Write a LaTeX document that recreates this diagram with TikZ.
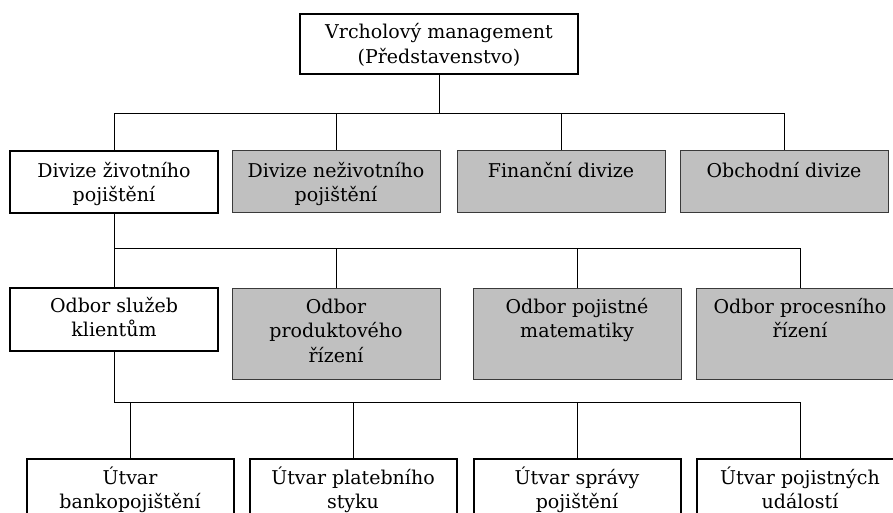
\documentclass[tikz,border=0pt]{standalone}
\usepackage{fontspec}
\newfontfamily\chartfont{DejaVu Serif}
\newcommand\boxtext[2][204pt]{\parbox[t]{#1}{\centering #2}}
\definecolor{boxgray}{HTML}{C0C0C0}
\definecolor{edgegray}{HTML}{3A3A3A}
\tikzset{
  mainbox/.style={draw=black, line width=2pt, fill=white, inner sep=0pt},
  sidebox/.style={draw=edgegray, line width=1pt, fill=boxgray, inner sep=0pt},
  lbl/.style={anchor=base, inner sep=0pt, font=\chartfont\fontsize{19}{24.5}\selectfont},
  link/.style={draw=black, line width=0.9pt},
}
\begin{document}
\begin{tikzpicture}[x=1pt, y=-1pt]
\useasboundingbox (0,0) rectangle (893,513);
\clip (0,0) rectangle (893,513);
\fill[white] (0,0) rectangle (893,513);

% --- top management ---
\node[mainbox, minimum width=278pt, minimum height=60pt, anchor=north] (top) at (439,13) {};
\node[lbl] (topt) at (439,39) {\boxtext[270pt]{Vrcholový management\\(Představenstvo)}};

% --- divisions ---
\node[mainbox, minimum width=208pt, minimum height=62pt, anchor=north] (d1) at (114,150) {};
\node[sidebox, minimum width=208pt, minimum height=62pt, anchor=north] (d2) at (336,150) {};
\node[sidebox, minimum width=208pt, minimum height=62pt, anchor=north] (d3) at (561,150) {};
\node[sidebox, minimum width=208pt, minimum height=62pt, anchor=north] (d4) at (784,150) {};
\node[lbl] (d1t) at (114,177) {\boxtext{Divize životního\\pojištění}};
\node[lbl] (d2t) at (336,177) {\boxtext{Divize neživotního\\pojištění}};
\node[lbl] (d3t) at (561,177) {\boxtext{Finanční divize}};
\node[lbl] (d4t) at (784,177) {\boxtext{Obchodní divize}};

% --- departments ---
\node[mainbox, minimum width=208pt, minimum height=63pt, anchor=north] (o1) at (114,287) {};
\node[sidebox, minimum width=208pt, minimum height=91pt, anchor=north] (o2) at (336,288) {};
\node[sidebox, minimum width=208pt, minimum height=91pt, anchor=north] (o3) at (577,288) {};
\node[sidebox, minimum width=208pt, minimum height=91pt, anchor=north] (o4) at (800,288) {};
\node[lbl] (o1t) at (114,312) {\boxtext{Odbor služeb\\klientům}};
\node[lbl] (o2t) at (336,313) {\boxtext{Odbor\\produktového\\řízení}};
\node[lbl] (o3t) at (577,313) {\boxtext{Odbor pojistné\\matematiky}};
\node[lbl] (o4t) at (800,313) {\boxtext{Odbor procesního\\řízení}};

% --- units ---
\node[mainbox, minimum width=207pt, minimum height=80pt, anchor=north] (u1) at (130,458) {};
\node[mainbox, minimum width=207pt, minimum height=80pt, anchor=north] (u2) at (353,458) {};
\node[mainbox, minimum width=207pt, minimum height=80pt, anchor=north] (u3) at (577,458) {};
\node[mainbox, minimum width=207pt, minimum height=80pt, anchor=north] (u4) at (800,458) {};
\node[lbl] (u1t) at (130,484) {\boxtext{Útvar\\bankopojištění}};
\node[lbl] (u2t) at (353,484) {\boxtext{Útvar platebního\\styku}};
\node[lbl] (u3t) at (577,484) {\boxtext{Útvar správy\\pojištění}};
\node[lbl] (u4t) at (800,484) {\boxtext{Útvar pojistných\\událostí}};

% --- connectors ---
\coordinate (busA) at (0,113);
\coordinate (busB) at (0,248);
\coordinate (busC) at (0,402);

\draw[link] (top.south) -- (top.south |- busA);
\draw[link] (d1.north) -- (d1.north |- busA) -- (d4.north |- busA) -- (d4.north);
\draw[link] (d2.north) -- (d2.north |- busA);
\draw[link] (d3.north) -- (d3.north |- busA);

\draw[link] (d1.south) -- (o1.north);
\draw[link] (d1.south |- busB) -- (o4.north |- busB) -- (o4.north);
\draw[link] (o2.north) -- (o2.north |- busB);
\draw[link] (o3.north) -- (o3.north |- busB);

\draw[link] (o1.south) -- (o1.south |- busC) -- (u4.north |- busC) -- (u4.north);
\draw[link] (u1.north) -- (u1.north |- busC);
\draw[link] (u2.north) -- (u2.north |- busC);
\draw[link] (u3.north) -- (u3.north |- busC);
\end{tikzpicture}
\end{document}
